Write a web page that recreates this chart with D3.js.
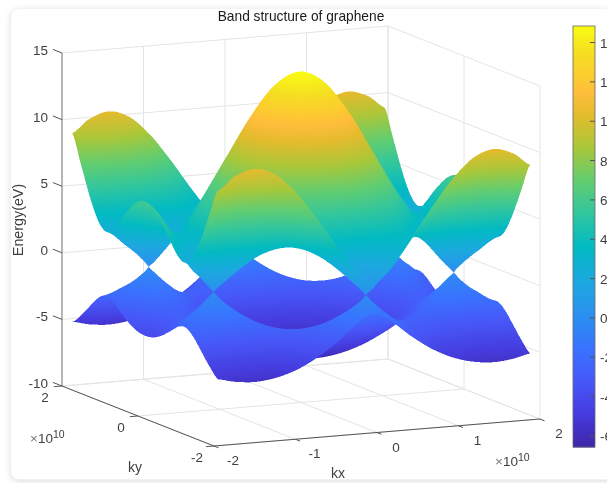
<!DOCTYPE html>
<html><head><meta charset="utf-8">
<script src="https://cdn.jsdelivr.net/npm/d3@7/dist/d3.min.js"></script>
<style>html,body{margin:0;padding:0;background:#fff;overflow:hidden}svg{display:block;filter:blur(0.3px)}#wrap{position:relative;width:607px;height:483px}#s{position:absolute;left:0;top:0;width:607px;height:483px;filter:blur(0.4px)}text{font-family:"Liberation Sans",Arial,sans-serif;fill:#404040}</style>
</head><body><div id="wrap"><svg id="c" width="607" height="483"></svg><canvas id="s" width="1214" height="966"></canvas></div>
<script>
// Quadrant tables (kx >= 0, ky >= 0); the picture is symmetric, the rest is mirrored.
const kxValues = [0, 0.246, 0.492, 0.737, 0.983, 1.229, 1.475, 1.72, 1.915];
const kyValues = [0, 0.213, 0.426, 0.639, 0.851, 1.064, 1.277, 1.49, 1.703, 1.915];
const upperBand = [
 [14.84,14.12,12.18,9.53,6.76,4.47,3.48,4.47,6.07],
 [14.30,13.61,11.74,9.17,6.47,4.21,3.21,4.21,5.79],
 [12.80,12.18,10.50,8.18,5.67,3.48,2.45,3.48,5.02],
 [10.63,10.13,8.74,6.76,4.56,2.49,1.33,2.49,3.97],
 [8.18,7.80,6.76,5.25,3.48,1.68,0,1.68,2.99],
 [5.73,5.51,4.90,4.00,2.96,2.01,1.56,2.01,2.68],
 [3.48,3.48,3.48,3.48,3.48,3.48,3.48,3.48,3.48],
 [1.56,2.01,2.96,4.00,4.90,5.51,5.73,5.51,5.10],
 [0,1.68,3.48,5.25,6.76,7.80,8.18,7.80,7.10],
 [1.23,2.41,4.47,6.65,8.60,9.97,10.46,9.97,9.04]];
const lowerBand = [
 [-6.56,-6.42,-5.98,-5.26,-4.29,-3.24,-2.69,-3.24,-4.00],
 [-6.45,-6.31,-5.87,-5.15,-4.17,-3.10,-2.52,-3.10,-3.88],
 [-6.13,-5.98,-5.55,-4.82,-3.82,-2.69,-2.03,-2.69,-3.52],
 [-5.58,-5.44,-5.01,-4.29,-3.29,-2.05,-1.19,-2.05,-2.97],
 [-4.82,-4.69,-4.29,-3.63,-2.69,-1.47,0,-1.47,-2.38],
 [-3.85,-3.75,-3.46,-2.98,-2.37,-1.72,-1.38,-1.72,-2.18],
 [-2.69,-2.69,-2.69,-2.69,-2.69,-2.69,-2.69,-2.69,-2.69],
 [-1.38,-1.72,-2.37,-2.98,-3.46,-3.75,-3.85,-3.75,-3.56],
 [0,-1.47,-2.69,-3.63,-4.29,-4.69,-4.82,-4.69,-4.43],
 [-1.12,-2.00,-3.24,-4.25,-4.97,-5.39,-5.54,-5.39,-5.11]];
const kxTicks = [-2,-1,0,1,2];
const kyTicks = [-2,0,2];
const zTicks = [-10,-5,0,5,10,15];
const cbTicks = [-6,-4,-2,0,2,4,6,8,10,12,14];
const cbDomain = [-6.56,14.84];
const parulaStops = ["#3e26a8","#463cde","#4758f8","#3875fe","#2b91ef","#1ca9df","#02bac3","#31c69f","#64cd6f","#abc739","#e6bb2d","#febd3c","#fcce2e","#f5de22","#f9fb15"];
const parulaAt = [0,5,10,15,20,25,30,35,40,45,50,53,56,59,63];

const svg = d3.select("#c");
// card with its soft shadow
svg.append("rect").attr("x",11).attr("y",10).attr("width",620).attr("height",471).attr("rx",8).attr("fill","#b8b8b8").style("filter","blur(3px)").attr("opacity",0.55);
svg.append("rect").attr("x",11).attr("y",9).attr("width",620).attr("height",470.5).attr("rx",8).attr("fill","#fff");

// orthographic projection built from linear scales
const O = [62,386];
const kxSX = d3.scaleLinear([-2,2],[0,326]), kxSY = d3.scaleLinear([-2,2],[0,-27]);
const kySX = d3.scaleLinear([2,-2],[0,152]), kySY = d3.scaleLinear([2,-2],[0,60]);
const zSY  = d3.scaleLinear([-10,15],[0,-333]);
const px = (kx,ky) => O[0]+kxSX(kx)+kySX(ky);
const py = (kx,ky,z) => O[1]+kxSY(kx)+kySY(ky)+zSY(z);
const line3 = (g,a,b,col,w) => g.append("line").attr("x1",px(a[0],a[1])).attr("y1",py(a[0],a[1],a[2])).attr("x2",px(b[0],b[1])).attr("y2",py(b[0],b[1],b[2])).attr("stroke",col).attr("stroke-width",w);

// back walls and floor grid
const grid = svg.append("g");
const G = "#e4e4e4";
zTicks.forEach(z=>{ line3(grid,[-2,2,z],[2,2,z],G,1); line3(grid,[2,2,z],[2,-2,z],G,1); });
kxTicks.forEach(k=>{ line3(grid,[k,2,-10],[k,2,15],G,1); line3(grid,[k,2,-10],[k,-2,-10],G,1); });
kyTicks.forEach(k=>{ line3(grid,[2,k,-10],[2,k,15],G,1); line3(grid,[-2,k,-10],[2,k,-10],G,1); });

// surface mesh
const tScale = d3.scaleLinear().domain(parulaAt.map(d=>d/63)).range(parulaStops).interpolate(d3.interpolateRgb);
const color = d3.scaleSequential(tScale).domain(cbDomain);
const mirror = a => [...a.slice(1).reverse(), ...a];
const kxFull = [...kxValues.slice(1).reverse().map(d=>-d), ...kxValues];
const kyFull = [...kyValues.slice(1).reverse().map(d=>-d), ...kyValues];
const cr = (p0,p1,p2,p3,t) => 0.5*(2*p1+(p2-p0)*t+(2*p0-5*p1+4*p2-p3)*t*t+(3*p1-p0-3*p2+p3)*t*t*t);
const N = 6;
function refine(table, sign){
  const full = mirror(table).map(mirror).map(r=>r.map(v=>v*v));
  const nx = kxFull.length, ny = kyFull.length;
  const at = (j,i)=>full[Math.max(0,Math.min(ny-1,j))][Math.max(0,Math.min(nx-1,i))];
  const W=(nx-1)*N+1,H=(ny-1)*N+1, out=[];
  for(let b=0;b<H;b++){
    const j=Math.min(ny-2,Math.floor(b/N)), v=b/N-j, row=[];
    for(let a=0;a<W;a++){
      const i=Math.min(nx-2,Math.floor(a/N)), u=a/N-i;
      const c=[-1,0,1,2].map(dj=>cr(at(j+dj,i-1),at(j+dj,i),at(j+dj,i+1),at(j+dj,i+2),u));
      const z=sign*Math.sqrt(Math.max(0,cr(c[0],c[1],c[2],c[3],v)));
      const kx=kxFull[i]+(kxFull[i+1]-kxFull[i])*u, ky=kyFull[j]+(kyFull[j+1]-kyFull[j])*v;
      row.push({x:2*px(kx,ky), y:2*py(kx,ky,z), z, d:0.466*kx+ky-1.362*z});
    }
    out.push(row);
  }
  return out;
}
// per-pixel shading with a depth buffer, colours from the d3 scale
const cv = document.getElementById("s"), W = cv.width, H = cv.height, ctx = cv.getContext("2d");
const img = ctx.createImageData(W,H), zbuf = new Float32Array(W*H).fill(1e9);
const lut = d3.range(2048).map(i=>{const c=d3.rgb(color(cbDomain[0]+(cbDomain[1]-cbDomain[0])*i/2047));return [c.r,c.g,c.b];});
function tri(a,b,c){
  const den=(b.y-c.y)*(a.x-c.x)+(c.x-b.x)*(a.y-c.y);
  if(Math.abs(den)<1e-6) return;
  const x0=Math.max(0,Math.floor(Math.min(a.x,b.x,c.x))), x1=Math.min(W-1,Math.ceil(Math.max(a.x,b.x,c.x)));
  const y0=Math.max(0,Math.floor(Math.min(a.y,b.y,c.y))), y1=Math.min(H-1,Math.ceil(Math.max(a.y,b.y,c.y)));
  const eps=-0.02;
  for(let y=y0;y<=y1;y++)for(let x=x0;x<=x1;x++){
    const l1=((b.y-c.y)*(x-c.x)+(c.x-b.x)*(y-c.y))/den, l2=((c.y-a.y)*(x-c.x)+(a.x-c.x)*(y-c.y))/den, l3=1-l1-l2;
    if(l1<eps||l2<eps||l3<eps) continue;
    const d=l1*a.d+l2*b.d+l3*c.d, k=y*W+x;
    if(d>=zbuf[k]) continue;
    zbuf[k]=d;
    const z=l1*a.z+l2*b.z+l3*c.z;
    const t=Math.max(0,Math.min(2047,Math.round((z-cbDomain[0])/(cbDomain[1]-cbDomain[0])*2047)));
    const col=lut[t], o=k*4;
    img.data[o]=col[0];img.data[o+1]=col[1];img.data[o+2]=col[2];img.data[o+3]=255;
  }
}
[[upperBand,1],[lowerBand,-1]].forEach(([t,s])=>{
  const m=refine(t,s);
  for(let b=0;b<m.length-1;b++)for(let a=0;a<m[0].length-1;a++){
    tri(m[b][a],m[b][a+1],m[b+1][a+1]);
    tri(m[b][a],m[b+1][a+1],m[b+1][a]);
  }
});
ctx.putImageData(img,0,0);

// axes
const ax = svg.append("g");
line3(ax,[-2,2,-10],[-2,2,15],"#a8a8a8",1.6);
line3(ax,[-2,2,-10],[-2,-2,-10],"#555",1);
line3(ax,[-2,-2,-10],[2,-2,-10],"#555",1);
zTicks.forEach(z=>{
  line3(ax,[-2,2,z],[-2,2.24,z],"#555",1);
  ax.append("text").attr("x",48).attr("y",py(-2,2,z)+2).attr("text-anchor","end").attr("font-size",13.5).text(z);
});
kyTicks.forEach(k=>{
  line3(ax,[-2,k,-10],[-2.1,k,-10],"#555",1);
  ax.append("text").attr("x",px(-2,k)-17).attr("y",py(-2,k,-10)+16).attr("text-anchor","middle").attr("font-size",13.5).text(k);
});
kxTicks.forEach(k=>{
  line3(ax,[k,-2,-10],[k,-2.12,-10],"#555",1);
  ax.append("text").attr("x",px(k,-2)+19).attr("y",py(k,-2,-10)+19).attr("text-anchor","middle").attr("font-size",13.5).text(k);
});
function exp10(x,y){
  const t=ax.append("text").attr("x",x).attr("y",y).attr("font-size",13.5);
  t.append("tspan").attr("fill","#777").text("\u00d7");
  t.append("tspan").text("10");
  t.append("tspan").attr("font-size",10.5).attr("dy",-5).text("10");
}
exp10(30,443);
exp10(495,466);
svg.append("text").attr("x",338).attr("y",478).attr("text-anchor","middle").attr("font-size",14).text("kx");
svg.append("text").attr("x",135).attr("y",472).attr("text-anchor","middle").attr("font-size",14).text("ky");
svg.append("text").attr("transform","translate(23,220) rotate(-90)").attr("text-anchor","middle").attr("font-size",14.3).text("Energy(eV)");
svg.append("text").attr("x",301).attr("y",21).attr("text-anchor","middle").attr("font-size",13.75).style("fill","#1a1a1a").text("Band structure of graphene");

// colorbar
const cbY = d3.scaleLinear(cbDomain,[447,26]);
const cb = svg.append("g");
const cbSteps = d3.range(447,26,-1);
cb.selectAll("rect").data(cbSteps).join("rect").attr("x",573).attr("width",22).attr("y",d=>d-1).attr("height",1.5).attr("fill",d=>color(cbY.invert(d-0.5)));
cb.append("rect").attr("x",573).attr("y",26).attr("width",22).attr("height",421).attr("fill","none").attr("stroke","#666").attr("stroke-width",0.8);
cbTicks.forEach(t=>{
  cb.append("line").attr("x1",590).attr("x2",595).attr("y1",cbY(t)).attr("y2",cbY(t)).attr("stroke","#555");
  cb.append("text").attr("x",600).attr("y",cbY(t)+5).attr("font-size",13.5).text(t);
});
</script></body></html>
